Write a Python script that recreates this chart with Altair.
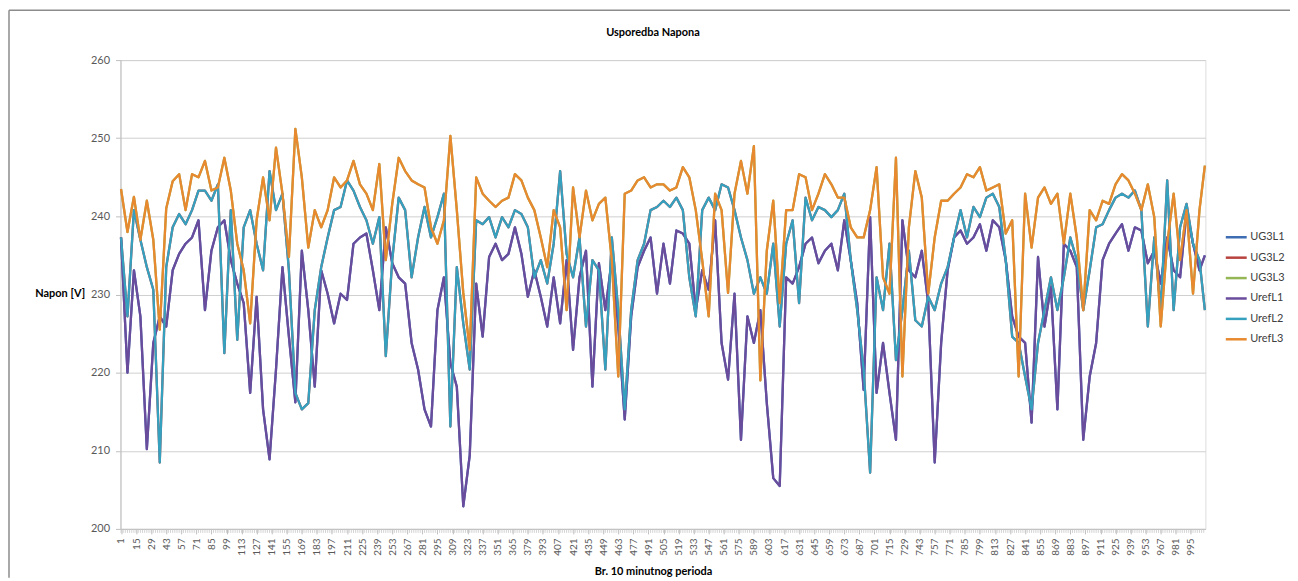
import altair as alt
import pandas as pd

periods = list(range(1, 1004, 6)) + [1008]

urefl1 = [
    237.3, 220, 233.1, 227.2, 210.2, 223.8, 227.2, 225.9, 233.1, 235.2, 236.5, 237.3, 239.5, 228, 235.6, 238.6, 239.5, 234.4, 231.4, 228.9, 217.4, 229.7, 215.3, 208.9, 220.4, 233.5, 224.6, 216.2,
    235.6, 228, 218.2, 233.1, 230.1, 226.3, 230.1, 229.3, 236.5, 237.3, 237.8, 233.1, 228, 238.6, 234, 232.2, 231.4, 223.8, 220.4, 215.3, 213.1, 228, 232.2, 221.2, 218.2, 202.9, 209.4, 231.4,
    224.6, 234.8, 236.5, 234.4, 235.2, 238.6, 235.2, 229.7, 233.1, 229.7, 225.9, 232.2, 226.3, 234.4, 222.9, 232.2, 235.6, 218.2, 234, 228, 234.4, 225.9, 214, 227.2, 233.5, 235.6, 237.3, 230.1,
    236.5, 231.4, 238.2, 237.8, 236.5, 228, 233.1, 230.6, 239.5, 223.8, 219.1, 230.1, 211.4, 227.2, 223.8, 228, 216.1, 206.5, 205.5, 232.2, 231.4, 233.5, 236.5, 237.3, 234, 235.6, 236.5, 233.1,
    239.5, 234.4, 228.9, 217.8, 239.9, 217.4, 223.8, 217.4, 211.4, 239.5, 233.1, 232.2, 235.6, 228.9, 208.5, 223.8, 233.1, 237.3, 238.2, 236.5, 237.3, 239, 235.6, 239.5, 238.6, 234.4, 227.2, 224.6,
    223.8, 213.6, 234.8, 225.9, 231, 215.3, 236.5, 235.6, 233.5, 211.4, 219.5, 223.8, 234.4, 236.5, 237.8, 239, 235.6, 238.6, 238.2, 234, 235.6, 231.4, 237.3, 233.1, 232.2, 240.8, 236.5, 233.1,
    235,
]

urefl2 = [
    237.3, 227.2, 240.8, 237, 233.5, 230.6, 208.5, 233.5, 238.6, 240.3, 239, 240.8, 243.3, 243.3, 242, 244.1, 222.5, 240.8, 224.2, 238.6, 240.8, 236.5, 233.1, 245.8, 240.8, 242.9, 233.1, 217.4,
    215.3, 216.1, 228, 233.5, 237.3, 240.8, 241.2, 244.6, 243.3, 241.2, 239.5, 236.5, 239.9, 222.1, 234.4, 242.4, 240.8, 232.2, 237.3, 241.2, 237.3, 239.9, 242.9, 213.1, 233.5, 226.3, 220.4, 239.5,
    239, 239.9, 237.3, 239.9, 238.6, 240.8, 240.3, 238.6, 232.2, 234.4, 231.4, 236.5, 245.8, 235.2, 232.2, 237.3, 225.9, 234.4, 233.1, 220.4, 237.3, 228, 215.3, 228, 234.4, 236.5, 240.8, 241.2,
    242, 241.2, 242.4, 240.8, 232.2, 227.2, 240.8, 242.4, 240.8, 244.1, 243.7, 240.8, 237.3, 234.4, 230.1, 232.2, 230.1, 236.5, 225.9, 236.5, 239.5, 228.9, 242.4, 239.5, 241.2, 240.8, 239.9, 240.8,
    242.9, 234.4, 228, 220.4, 207.2, 232.2, 228, 236.5, 221.6, 228, 235.6, 226.7, 225.9, 229.7, 228, 231.4, 233.5, 237.3, 240.8, 237.3, 241.2, 239.9, 242.4, 242.9, 241.2, 234.4, 224.6, 223.8,
    219.5, 215.3, 223.8, 228, 232.2, 228, 232.2, 237.3, 234.4, 228, 233.1, 238.6, 239, 240.8, 242.4, 242.9, 242.4, 243.3, 240.8, 225.9, 237.3, 228, 244.6, 228, 238.6, 241.6, 236.5, 234.4,
    228,
]

urefl3 = [
    243.5, 238, 242.5, 237, 242, 237, 225.5, 241, 244.5, 245.4, 240.8, 245.4, 245, 247.1, 243.3, 243.7, 247.5, 243.3, 236.5, 233.1, 226.3, 239.5, 245, 239.5, 248.8, 242.9, 234.8, 251.2,
    245, 236, 240.8, 238.6, 240.8, 245, 243.7, 244.6, 247.1, 244.1, 242.9, 240.8, 246.7, 234.4, 241.6, 247.5, 245.8, 244.6, 244.1, 243.7, 238.6, 236.5, 239.5, 250.3, 240.8, 230.2, 222.9, 245,
    242.9, 242, 241.2, 242, 242.4, 245.4, 244.6, 242.4, 240.8, 237.3, 233.5, 240.8, 238.6, 228, 243.7, 237.3, 243.3, 239.5, 241.6, 242.4, 234.4, 219.5, 242.9, 243.3, 244.6, 245, 243.7, 244.1,
    244.1, 243.3, 243.7, 246.3, 245, 240.8, 234.4, 227.2, 242.9, 240.8, 230.2, 242.9, 247.1, 242.9, 249, 219, 235.6, 242, 228.9, 240.8, 240.8, 245.4, 245, 240.8, 242.9, 245.4, 244.1, 242.4,
    242.4, 238.6, 237.3, 237.3, 240.8, 246.3, 232.2, 230.1, 247.5, 219.5, 238.6, 245.8, 242.4, 230.1, 237.3, 242, 242, 242.9, 243.7, 245.4, 245, 246.3, 243.3, 243.7, 244.1, 237.8, 239.5, 219.5,
    242.9, 236, 242.4, 243.7, 241.6, 242.9, 236.5, 242.9, 237.3, 228, 240.8, 239.5, 242, 241.6, 244.1, 245.4, 244.6, 242.9, 240.8, 244.1, 239.9, 225.9, 236.5, 242.9, 234.4, 240.8, 230.1, 240.8,
    246.5,
]

# UG3 series lie underneath the reference series (practically identical)
ug3l1 = list(urefl1)
ug3l2 = list(urefl2)
ug3l3 = list(urefl3)

series_names = ["UG3L1", "UG3L2", "UG3L3", "UrefL1", "UrefL2", "UrefL3"]
series_values = [ug3l1, ug3l2, ug3l3, urefl1, urefl2, urefl3]
series_colors = ["#3E6DB3", "#B8423E", "#94B655", "#6A4C9C", "#36A0BF", "#E8892F"]

x_tick_labels = list(range(1, 1008, 14))
y_ticks = [200, 210, 220, 230, 240, 250, 260]
minor_ticks = list(range(1, 1009, 2))

FONT = "Lato"

rows = []
for name, vals in zip(series_names, series_values):
    for p, v in zip(periods, vals):
        rows.append({"period": p, "serija": name, "napon": v})
df = pd.DataFrame(rows)

x_scale = alt.Scale(domain=[0.5, 1008.5], nice=False, zero=False)
y_scale = alt.Scale(domain=[200, 260], nice=False, zero=False)
color_scale = alt.Scale(domain=series_names, range=series_colors)

x_axis = alt.Axis(
    values=x_tick_labels,
    labelAngle=-90,
    labelAlign="right",
    labelBaseline="middle",
    labelFontSize=10,
    labelFont=FONT,
    labelColor="#595959",
    labelPadding=4,
    labelOverlap=False,
    labelFlush=False,
    labelBound=False,
    grid=False,
    domainColor="#BFBFBF",
    tickColor="#BFBFBF",
    tickSize=5,
    title="Br. 10 minutnog perioda",
    titleFont=FONT,
    titleFontSize=11,
    titleFontWeight="bold",
    titleColor="#000000",
    titleX=535,
    titleY=43,
    titleAnchor="middle",
    titleAlign="center",
    titleBaseline="middle",
)
y_axis = alt.Axis(
    values=y_ticks,
    labelFontSize=11,
    labelFont=FONT,
    labelColor="#595959",
    labelPadding=6,
    grid=True,
    gridColor="#D0D0D0",
    domainColor="#BFBFBF",
    tickColor="#BFBFBF",
    tickSize=5,
    title="Napon [V]",
    titleFont=FONT,
    titleFontSize=11,
    titleFontWeight="bold",
    titleColor="#000000",
    titleAngle=0,
    titleX=-36,
    titleY=235,
    titleAlign="right",
    titleBaseline="middle",
)

legend = alt.Legend(
    title=None,
    orient="none",
    legendX=1109,
    legendY=166,
    symbolType="stroke",
    symbolStrokeWidth=2.5,
    symbolSize=441,
    labelFont=FONT,
    labelFontSize=11,
    labelColor="#404040",
    labelOffset=2,
    rowPadding=3.5,
)

layers = []
for name in series_names:
    layers.append(
        alt.Chart(df)
        .transform_filter(alt.datum.serija == name)
        .mark_line(strokeWidth=2.3, strokeJoin="round")
        .encode(
            x=alt.X("period:Q", scale=x_scale, axis=x_axis),
            y=alt.Y("napon:Q", scale=y_scale, axis=y_axis),
            color=alt.Color("serija:N", scale=color_scale, legend=legend),
        )
    )

minor = (
    alt.Chart(pd.DataFrame({"period": minor_ticks}))
    .mark_rule(color="#C8C8C8", strokeWidth=0.8)
    .encode(x=alt.X("period:Q", scale=x_scale, axis=x_axis), y=alt.value(471), y2=alt.value(475))
)

frame_left = alt.Chart(pd.DataFrame({"a": [0]})).mark_rule(color="#8C8C8C", strokeWidth=1.5).encode(
    x=alt.value(-112), y=alt.value(-50), y2=alt.value(520)
)
frame_top = alt.Chart(pd.DataFrame({"a": [0]})).mark_rule(color="#8C8C8C", strokeWidth=1.5).encode(
    x=alt.value(-112), x2=alt.value(1175), y=alt.value(-50)
)

chart = (
    alt.layer(frame_left, frame_top, minor, *layers)
    .properties(
        width=1090,
        height=471,
        title=alt.Title(
            "Usporedba Napona",
            font=FONT,
            fontSize=11,
            fontWeight="bold",
            color="#000000",
            anchor="middle",
            frame="group",
            dx=-10,
            offset=-29,
        ),
        autosize=alt.AutoSizeParams(type="none"),
        padding={"left": 113, "top": 51, "right": 85, "bottom": 50},
    )
    .configure_view(stroke=None)
    .configure_axis(labelOverlap=False)
    .configure(background="#FFFFFF")
)

chart.save("out.html", embed_options={"renderer": "svg", "actions": False})
